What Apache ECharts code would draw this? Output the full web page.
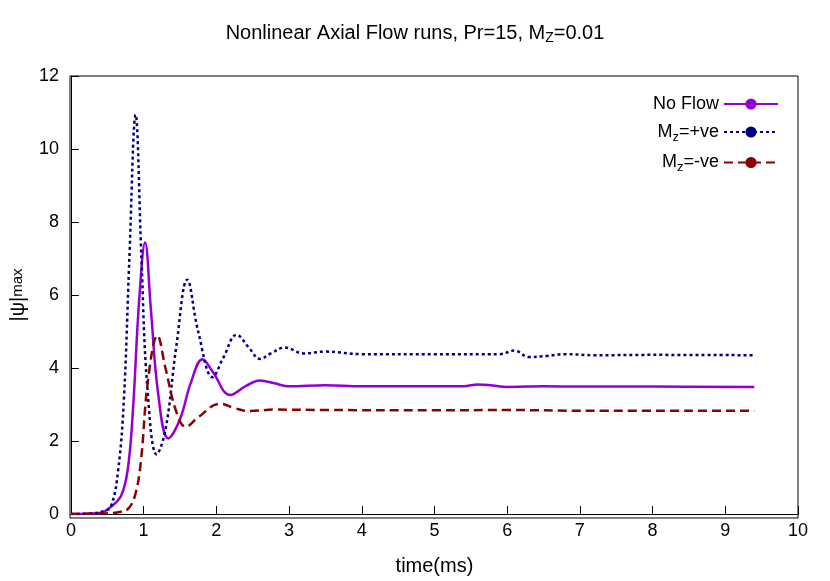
<!DOCTYPE html>
<html>
<head>
<meta charset="utf-8">
<script src="https://cdn.jsdelivr.net/npm/echarts@6/dist/echarts.min.js"></script>
<style>html,body{margin:0;padding:0;background:#fff}#main{width:830px;height:581px}</style>
</head>
<body>
<div id="main"></div>
<script>
// data: [time(ms), |psi|max]
var noFlow = [[0,0],[0.4,0.03],[0.55,0.2],[0.69,0.5],[0.78,1.2],[0.85,2.75],[0.94,5.9],[1.02,7.44],[1.1,5.6],[1.2,3.3],[1.34,2.07],[1.5,2.6],[1.65,3.6],[1.81,4.24],[1.95,3.9],[2.19,3.26],[2.4,3.5],[2.6,3.66],[2.8,3.58],[3.0,3.5],[3.5,3.53],[4.0,3.5],[5.0,3.5],[5.4,3.5],[5.6,3.55],[5.8,3.52],[6.0,3.48],[6.5,3.5],[7.0,3.49],[8.0,3.49],[9.4,3.48]];
var mzPos = [[0,0],[0.3,0.02],[0.45,0.08],[0.55,0.2],[0.65,1.2],[0.73,3.2],[0.8,6.8],[0.89,10.94],[0.97,7.0],[1.05,3.5],[1.18,1.63],[1.3,2.3],[1.45,4.6],[1.6,6.42],[1.75,5.0],[1.95,3.75],[2.1,4.3],[2.28,4.91],[2.45,4.55],[2.6,4.25],[2.75,4.4],[2.94,4.56],[3.2,4.4],[3.5,4.45],[4.0,4.38],[5.0,4.38],[5.9,4.38],[6.1,4.48],[6.3,4.3],[6.55,4.33],[6.8,4.38],[7.2,4.35],[8.0,4.36],[9.4,4.35]];
var mzNeg = [[0,0],[0.5,0.02],[0.65,0.05],[0.78,0.13],[0.88,0.5],[0.96,1.4],[1.06,3.66],[1.19,4.89],[1.3,4.0],[1.45,2.8],[1.58,2.39],[1.75,2.65],[2.05,3.02],[2.25,2.9],[2.45,2.82],[2.8,2.86],[3.5,2.85],[5.0,2.84],[6.0,2.85],[7.0,2.83],[9.4,2.83]];
var seriesNames = ['No Flow', 'Mz=+ve', 'Mz=-ve'];
var legendLabels = ['No Flow', 'M{sub|z}=+ve', 'M{sub|z}=-ve'];

var myChart = echarts.init(document.getElementById('main'));
var font = 'Liberation Sans';

var option = {
    backgroundColor: '#fff',
    textStyle: { fontFamily: font },
    title: {
        text: 'Nonlinear Axial Flow runs, Pr=15, M{sub|Z}=0.01',
        left: 'center', top: 16,
        textStyle: { fontSize: 20, fontWeight: 'normal', color: '#000', fontFamily: font, rich: { sub: { fontSize: 14, padding: [10, 0, 0, 0], fontFamily: font } } }
    },
    legend: {
        data: seriesNames,
        orient: 'vertical', right: 46, top: 90, itemGap: 10,
        itemWidth: 54, itemHeight: 14, align: 'right',
        formatter: function (n) { return legendLabels[seriesNames.indexOf(n)]; },
        textStyle: { fontSize: 18, color: '#000', fontFamily: font, rich: { sub: { fontSize: 13, padding: [10, 0, 0, 0], fontFamily: font } } }
    },
    grid: { left: 70, right: 32, top: 76, bottom: 63 },
    xAxis: {
        type: 'value', min: 0, max: 10, interval: 1,
        name: 'time(ms)', nameLocation: 'middle', nameGap: 42,
        nameTextStyle: { fontSize: 20, color: '#000' },
        axisLine: { lineStyle: { color: '#000' } },
        axisTick: { inside: true, length: 8, lineStyle: { color: '#000' } },
        axisLabel: { fontSize: 18, color: '#000', margin: 8 },
        splitLine: { show: false }
    },
    yAxis: {
        type: 'value', min: 0, max: 12, interval: 2,
        name: '|ψ|{sub|max}', nameLocation: 'middle', nameGap: 42, nameRotate: 90,
        nameTextStyle: { fontSize: 20, color: '#000', rich: { sub: { fontSize: 15, padding: [0, 0, 0, 0], fontFamily: font } } },
        axisLine: { lineStyle: { color: '#000' } },
        axisTick: { inside: true, length: 8, lineStyle: { color: '#000' } },
        axisLabel: { fontSize: 18, color: '#000', margin: 12 },
        splitLine: { show: false }
    },
    series: [
        { name: 'No Flow', type: 'line', data: noFlow, smooth: 0.4, symbol: 'none', color: '#9400d3', lineStyle: { width: 2.5, color: '#9400d3' } },
        { name: 'Mz=+ve', type: 'line', data: mzPos, smooth: 0.4, symbol: 'none', color: '#000080', lineStyle: { width: 2.5, color: '#000080', type: [3, 3] } },
        { name: 'Mz=-ve', type: 'line', data: mzNeg, smooth: 0.4, symbol: 'none', color: '#8b0000', lineStyle: { width: 2.5, color: '#8b0000', type: [9, 5] } }
    ],
    // frame on top/right like the original
    graphic: [{ type: 'rect', shape: { x: 70, y: 76, width: 728, height: 442 }, style: { fill: 'none', stroke: '#000', lineWidth: 1 }, silent: true }]
};
myChart.setOption(option);
</script>
</body>
</html>
